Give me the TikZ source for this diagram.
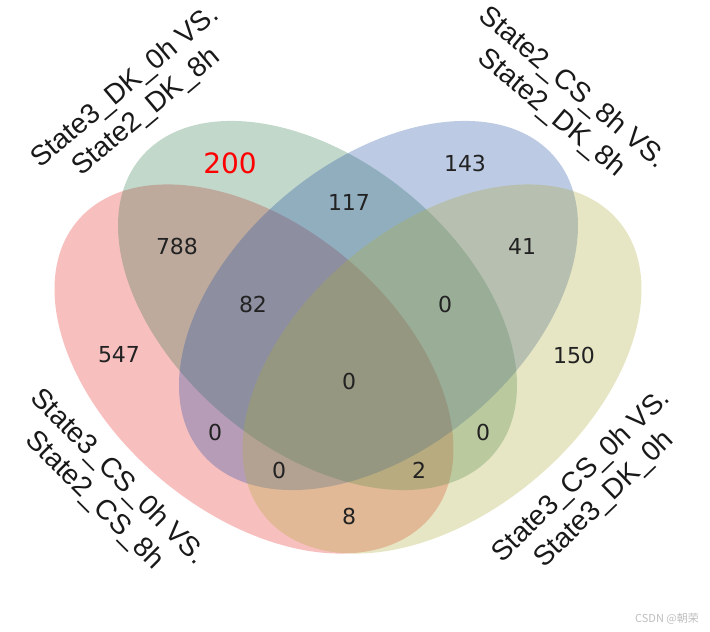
\documentclass[tikz,border=0pt]{standalone}
\usepackage{fontspec}
\usepackage{tikz}
\usetikzlibrary{positioning}
\newfontfamily\numfont{DejaVu Sans}
\newfontfamily\labelfont{Liberation Sans}
\newfontfamily\cjkfont{Noto Sans CJK SC}
\definecolor{setred}{RGB}{232,42,42}
\definecolor{setgreen}{RGB}{52,125,82}
\definecolor{setblue}{RGB}{32,78,165}
\definecolor{setyellow}{RGB}{172,172,58}
\definecolor{numgray}{RGB}{34,34,34}
\definecolor{marksgray}{RGB}{190,190,190}
\tikzset{
	x=1pt, y=1pt,
	venn/.style={fill opacity=0.3},
	num/.style={font=\numfont\fontsize{22}{26}\selectfont, text=numgray, inner sep=0pt},
	setlabel/.style={font=\labelfont\fontsize{28}{33}\selectfont, align=center, text=black!90, inner sep=0pt},
}

\begin{document}
\begin{tikzpicture}
		\useasboundingbox (0,0) rectangle (710,632);
		\fill[venn, setred, rotate around={-39.9:(254,263)}] (254,263) ellipse [x radius=230.4, y radius=144.1];
		\fill[venn, setgreen, rotate around={-39.9:(317.5,326.5)}] (317.5,326.5) ellipse [x radius=230.4, y radius=144.1];
		\fill[venn, setblue, rotate around={39.9:(378.5,326.5)}] (378.5,326.5) ellipse [x radius=230.4, y radius=144.1];
		\fill[venn, setyellow, rotate around={39.9:(442,263)}] (442,263) ellipse [x radius=230.4, y radius=144.1];

		\node[num, font=\numfont\fontsize{28}{32}\selectfont, text=red] (g) at (230,469) {200};
		\node[num] (b) at (465,469) {143};
		\node[num] (gb) at (349,430) {117};
		\node[num] (rg) at (177,386) {788};
		\node[num] (by) at (522,386) {41};
		\node[num] (rgb) at (253,328) {82};
		\node[num] (gby) at (445,328) {0};
		\node[num] (r) at (119,277) {547};
		\node[num] (y) at (574,277) {150};
		\node[num] (rgby) at (349,251) {0};
		\node[num] (rb) at (215,200) {0};
		\node[num] (gy) at (483,200) {0};
		\node[num] (rby) at (279,162) {0};
		\node[num] (rgy) at (419,162) {2};
		\node[num] (ry) at (349,116) {8};

		\node[setlabel, rotate=40] (lg) at (136,532) {State3\_DK\_0h VS.\\State2\_DK\_8h};
		\node[setlabel, rotate=-40] (lb) at (562,531) {State2\_CS\_8h VS.\\State2\_DK\_8h};
		\node[setlabel, rotate=-45] (lr) at (106,143) {State3\_CS\_0h VS.\\State2\_CS\_8h};
		\node[setlabel, rotate=44] (ly) at (593,144) {State3\_CS\_0h VS.\\State3\_DK\_0h};

		\node[font=\cjkfont\fontsize{11}{13}\selectfont, text=marksgray, inner sep=0pt] (mark) at (667,13) {CSDN @朝荣};
	\end{tikzpicture}
\end{document}
